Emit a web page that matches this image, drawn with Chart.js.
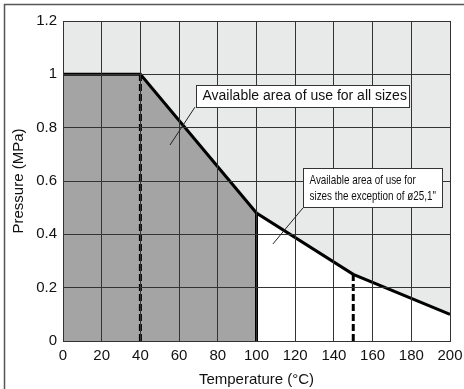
<!DOCTYPE html>
<html>
<head>
<meta charset="utf-8">
<script src="https://cdn.jsdelivr.net/npm/chart.js@4.4.1/dist/chart.umd.min.js"></script>
<style>
    html, body { margin: 0; padding: 0; background: #fff; }
    #wrap { width: 464px; height: 389px; position: relative; }
</style>
</head>
<body>
<div id="wrap"><canvas id="chart"></canvas></div>
<script>
// Boundary of the allowed area (temperature in degC, pressure in MPa)
const boundaryT = [0, 40, 100, 150, 200];
const boundaryP = [1, 1, 0.48, 0.25, 0.1];

// Area for all sizes (dark grey) and area except o25,1" (white)
const allSizesT = [0, 40, 100];
const allSizesP = [1, 1, 0.48];
const exceptT = [100, 150, 200];
const exceptP = [0.48, 0.25, 0.1];

// Vertical limit markers
const dashedT = [40, 150];
const dashedP = [1, 0.25];
const solidT = [100];
const solidP = [0.48];

// Tick labels
const xTickLabels = ['0', '20', '40', '60', '80', '100', '120', '140', '160', '180', '200'];
const yTickLabels = ['0', '0.2', '0.4', '0.6', '0.8', '1', '1.2'];

// Callout texts
const calloutAll = ['Available area of use for all sizes'];
const calloutExcept = ['Available area of use for', 'sizes the exception of \u00f825,1"'];

const FONT = "'Liberation Sans', Arial, Helvetica, sans-serif";

function pts(xs, ys) {
    return xs.map((x, i) => ({ x: x, y: ys[i] }));
}

function vline(x, top) {
    return [{ x: x, y: 0 }, { x: x, y: top }];
}

const datasets = [
    // limit lines on top
    {
        data: pts(boundaryT, boundaryP),
        borderColor: '#000', borderWidth: 3, fill: false, order: 0
    },
    ...dashedT.map((t, i) => ({
        data: vline(t, dashedP[i]),
        borderColor: '#000', borderWidth: 3, borderDash: [7, 3], fill: false, order: 1
    })),
    ...solidT.map((t, i) => ({
        data: vline(t, solidP[i]),
        borderColor: '#000', borderWidth: 3, fill: false, order: 1
    })),
    // filled areas
    {
        data: pts(allSizesT, allSizesP),
        borderWidth: 0, borderColor: 'rgba(0,0,0,0)',
        backgroundColor: '#a4a4a4', fill: 'origin', order: 5
    },
    {
        data: pts(exceptT, exceptP),
        borderWidth: 0, borderColor: 'rgba(0,0,0,0)',
        backgroundColor: '#ffffff', fill: 'origin', order: 5
    },
    // light grey background of the whole plot
    {
        data: [{ x: 0, y: 1.2 }, { x: 200, y: 1.2 }],
        borderWidth: 0, borderColor: 'rgba(0,0,0,0)',
        backgroundColor: '#e8e9e9', fill: 'origin', order: 9
    }
];

// frame line round the figure (left and top edge)
const framePlugin = {
    id: 'frame',
    beforeDraw(chart) {
        const ctx = chart.ctx;
        ctx.save();
        ctx.strokeStyle = '#555';
        ctx.lineWidth = 1.5;
        ctx.beginPath();
        ctx.moveTo(4.5, chart.height);
        ctx.lineTo(4.5, 4.5);
        ctx.lineTo(chart.width, 4.5);
        ctx.stroke();
        ctx.restore();
    }
};

// callout boxes with leader lines, positioned in data units
const callouts = [
    { lines: calloutAll, box: [68.7, 0.96, 178.8, 0.877], leader: [68.2, 0.877, 55.3, 0.735],
      size: 14, squeeze: 1, lineGap: 16 },
    { lines: calloutExcept, box: [124, 0.649, 195.9, 0.5025], leader: [124, 0.499, 108.5, 0.364],
      size: 13, squeeze: 0.76, lineGap: 16 }
];

const calloutPlugin = {
    id: 'callouts',
    afterDraw(chart) {
        const ctx = chart.ctx;
        const xs = chart.scales.x, ys = chart.scales.y;
        ctx.save();
        callouts.forEach(c => {
            // leader line
            ctx.strokeStyle = '#222';
            ctx.lineWidth = 1;
            ctx.beginPath();
            ctx.moveTo(xs.getPixelForValue(c.leader[0]), ys.getPixelForValue(c.leader[1]));
            ctx.lineTo(xs.getPixelForValue(c.leader[2]), ys.getPixelForValue(c.leader[3]));
            ctx.stroke();

            // box
            const x1 = Math.round(xs.getPixelForValue(c.box[0])) + 0.5;
            const y1 = Math.round(ys.getPixelForValue(c.box[1])) + 0.5;
            const x2 = Math.round(xs.getPixelForValue(c.box[2])) + 0.5;
            const y2 = Math.round(ys.getPixelForValue(c.box[3])) + 0.5;
            ctx.fillStyle = '#fff';
            ctx.fillRect(x1, y1, x2 - x1, y2 - y1);
            ctx.strokeStyle = '#333';
            ctx.strokeRect(x1, y1, x2 - x1, y2 - y1);

            // text
            ctx.fillStyle = '#111';
            ctx.font = c.size + 'px ' + FONT;
            ctx.textAlign = 'left';
            ctx.textBaseline = 'middle';
            const cy = (y1 + y2) / 2 - (c.lines.length - 1) * c.lineGap / 2;
            c.lines.forEach((txt, i) => {
                ctx.save();
                ctx.translate(x1 + 6, cy + i * c.lineGap);
                ctx.scale(c.squeeze, 1);
                ctx.fillText(txt, 0, 0);
                ctx.restore();
            });
        });
        ctx.restore();
    }
};

const gridColor = '#333';

new Chart(document.getElementById('chart'), {
    type: 'scatter',
    data: { datasets: datasets },
    options: {
        responsive: true,
        maintainAspectRatio: false,
        animation: false,
        showLine: true,
        elements: { point: { radius: 0, hoverRadius: 0 }, line: { tension: 0 } },
        layout: { padding: { left: 0, top: 21, right: 14, bottom: 0 } },
        plugins: {
            legend: { display: false },
            tooltip: { enabled: false }
        },
        scales: {
            x: {
                type: 'linear',
                min: 0, max: 200,
                afterFit: (scale) => {
                    scale.height = 48;
                    scale.paddingLeft = 0;
                    scale.paddingRight = 0;
                },
                grid: { color: gridColor, lineWidth: 1, drawTicks: false, z: 1 },
                border: { display: true, color: gridColor, width: 1, z: 1 },
                ticks: {
                    stepSize: 20, autoSkip: false, maxRotation: 0, padding: 6,
                    color: '#111', font: { family: FONT, size: 15 },
                    callback: (v) => xTickLabels[Math.round(v / 20)]
                },
                title: {
                    display: true, text: 'Temperature (\u00b0C)', color: '#111',
                    font: { family: FONT, size: 15 }, padding: { top: 0, bottom: 0 }
                }
            },
            y: {
                type: 'linear',
                min: 0, max: 1.2,
                afterFit: (scale) => {
                    scale.width = 63;
                    scale.paddingTop = 0;
                    scale.paddingBottom = 0;
                },
                grid: { color: gridColor, lineWidth: 1, drawTicks: false, z: 1 },
                border: { display: true, color: gridColor, width: 1, z: 1 },
                ticks: {
                    stepSize: 0.2, autoSkip: false, padding: 6,
                    color: '#111', font: { family: FONT, size: 15 },
                    callback: (v) => yTickLabels[Math.round(v / 0.2)]
                },
                title: {
                    display: true, text: 'Pressure (MPa)', color: '#111',
                    font: { family: FONT, size: 15 }, padding: { top: 10, bottom: 0 }
                }
            }
        }
    },
    plugins: [framePlugin, calloutPlugin]
});
</script>
</body>
</html>
